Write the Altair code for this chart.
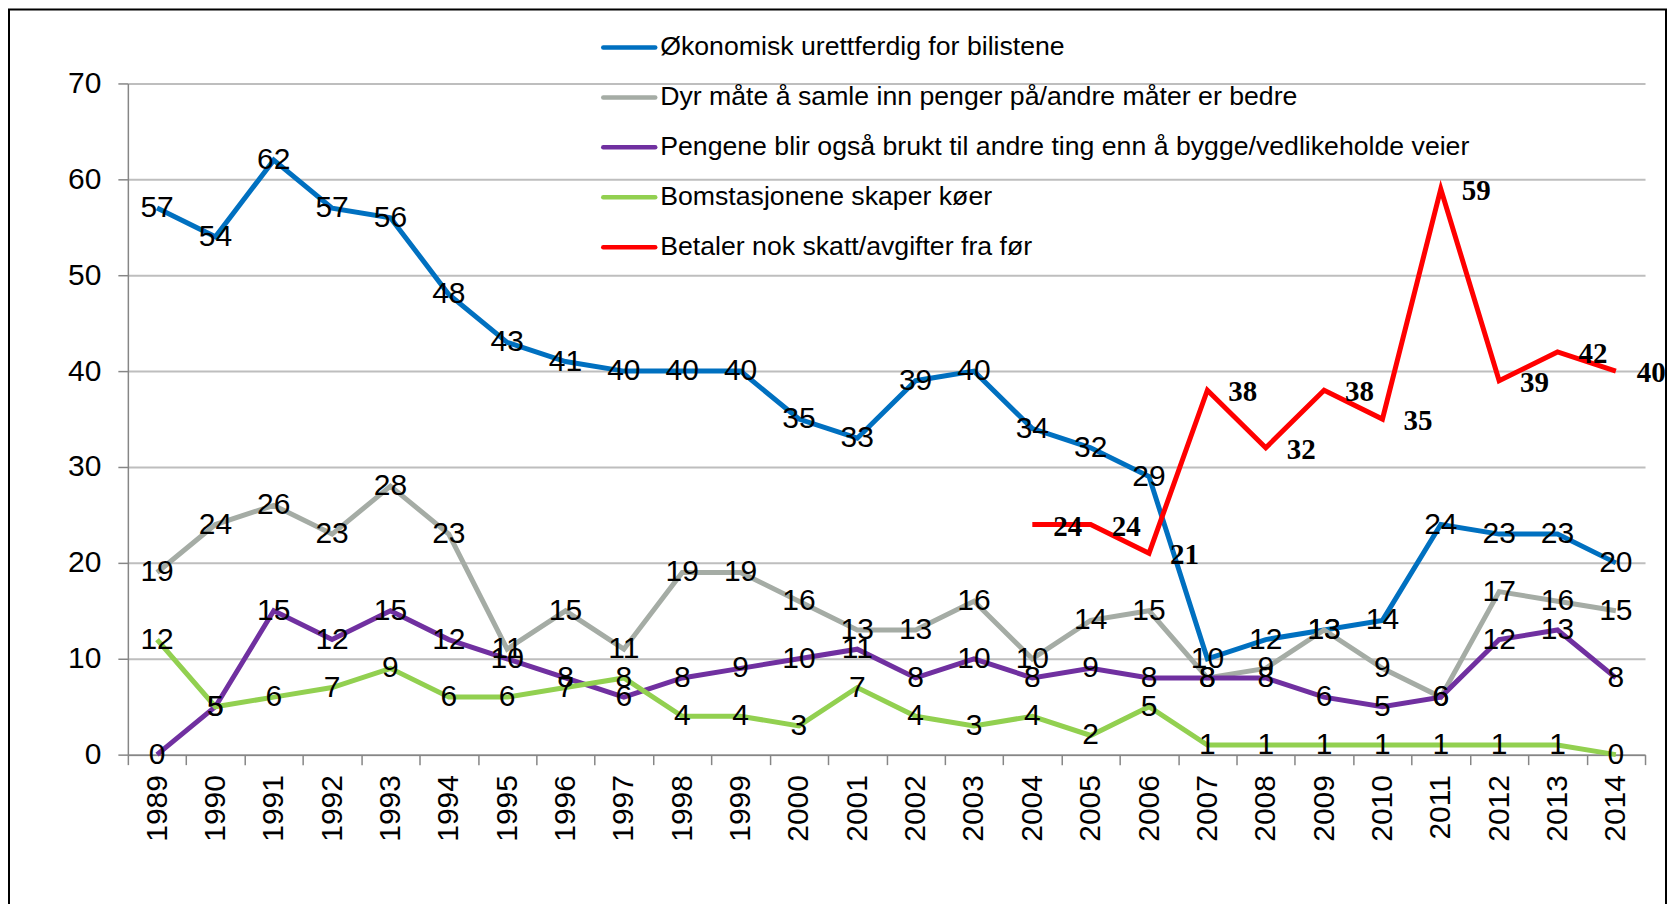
import altair as alt
import pandas as pd

years = ["1989", "1990", "1991", "1992", "1993", "1994", "1995", "1996", "1997",
         "1998", "1999", "2000", "2001", "2002", "2003", "2004", "2005", "2006",
         "2007", "2008", "2009", "2010", "2011", "2012", "2013", "2014"]

okonomisk = [57, 54, 62, 57, 56, 48, 43, 41, 40, 40, 40, 35, 33, 39, 40, 34, 32, 29,
             10, 12, 13, 14, 24, 23, 23, 20]
dyr = [19, 24, 26, 23, 28, 23, 11, 15, 11, 19, 19, 16, 13, 13, 16, 10, 14, 15,
       8, 9, 13, 9, 6, 17, 16, 15]
pengene = [0, 5, 15, 12, 15, 12, 10, 8, 6, 8, 9, 10, 11, 8, 10, 8, 9, 8,
           8, 8, 6, 5, 6, 12, 13, 8]
bom = [12, 5, 6, 7, 9, 6, 6, 7, 8, 4, 4, 3, 7, 4, 3, 4, 2, 5,
       1, 1, 1, 1, 1, 1, 1, 0]
skatt_years = ["2004", "2005", "2006", "2007", "2008", "2009", "2010", "2011",
               "2012", "2013", "2014"]
skatt = [24, 24, 21, 38, 32, 38, 35, 59, 39, 42, 40]

names = [
    "Økonomisk urettferdig for bilistene",
    "Dyr måte å samle inn penger på/andre måter er bedre",
    "Pengene blir også brukt til andre ting enn å bygge/vedlikeholde veier",
    "Bomstasjonene skaper køer",
    "Betaler nok skatt/avgifter fra før",
]
colors = ["#0070C0", "#A5ACA5", "#7030A0", "#92D050", "#FF0000"]
y_ticks = [0, 10, 20, 30, 40, 50, 60, 70]

W, H = 1519, 672

series = [
    (names[0], years, okonomisk),
    (names[1], years, dyr),
    (names[2], years, pengene),
    (names[3], years, bom),
    (names[4], skatt_years, skatt),
]
rows = []
for name, yrs, vals in series:
    for yr, v in zip(yrs, vals):
        rows.append({"year": yr, "series": name, "value": v})
df = pd.DataFrame(rows)

xenc = alt.X(
    "year:O",
    scale=alt.Scale(type="band", domain=years, paddingInner=0, paddingOuter=0),
    axis=alt.Axis(
        title=None, labelAngle=270, labelFontSize=30, labelFont="Liberation Sans",
        labelColor="black", tickBand="extent", tickSize=10, tickColor="#868686",
        tickWidth=1.5, domainColor="#868686", domainWidth=1.5, labelPadding=10,
        grid=False,
    ),
)
yscale = alt.Scale(domain=[0, 70], nice=False, zero=True)
yaxis = alt.Axis(
    title=None, values=y_ticks, labelFontSize=30, labelFont="Liberation Sans",
    labelColor="black", tickSize=10, tickColor="#868686", tickWidth=1.5,
    domainColor="#868686", domainWidth=1.5, labelPadding=17,
    grid=True, gridColor="#BEBEBE", gridWidth=2,
)
yenc = alt.Y("value:Q", scale=yscale, axis=yaxis)

layers = []
for i, (name, _, _) in enumerate(series):
    layers.append(
        alt.Chart(df[df["series"] == name])
        .mark_line(color=colors[i], strokeWidth=5, strokeJoin="miter")
        .encode(x=xenc, y=yenc)
    )

labels_sans = (
    alt.Chart(df[df["series"] != names[4]])
    .mark_text(font="Liberation Sans", fontSize=30, color="black",
               align="center", baseline="middle")
    .encode(x=xenc, y=yenc, text="value:Q")
)
labels_serif = (
    alt.Chart(df[df["series"] == names[4]])
    .mark_text(font="Liberation Serif", fontSize=29, fontWeight="bold",
               color="black", align="left", baseline="middle", dx=21, dy=2)
    .encode(x=xenc, y=yenc, text="value:Q")
)

data_layer = alt.layer(*layers, labels_sans, labels_serif)

leg_df = pd.DataFrame({"series": names, "idx": list(range(len(names))),
                       "col": colors})
leg_y = alt.Y("idx:Q", scale=alt.Scale(domain=[0, 4], range=[-36, 164]),
              axis=None)
leg_rule = (
    alt.Chart(leg_df)
    .mark_rule(strokeWidth=4.5, strokeCap="round")
    .encode(x=alt.value(476), x2=alt.value(528), y=leg_y,
            color=alt.Color("col:N", scale=None))
)
leg_text = (
    alt.Chart(leg_df)
    .mark_text(font="Liberation Sans", fontSize=26.7, color="black",
               align="left", baseline="middle")
    .encode(x=alt.value(533), y=leg_y, text="series:N")
)
legend_layer = alt.layer(leg_rule, leg_text)

frame = (
    alt.Chart(pd.DataFrame({"a": [0]}))
    .mark_rect(fillOpacity=0, stroke="black", strokeWidth=2)
    .encode(x=alt.value(-119), x2=alt.value(1540),
            y=alt.value(-74), y2=alt.value(900))
)

chart = (
    alt.layer(frame, data_layer, legend_layer)
    .resolve_scale(y="independent")
    .properties(
        width=W, height=H,
        autosize=alt.AutoSizeParams(type="none"),
        padding={"left": 120, "top": 75, "right": 23, "bottom": 149},
        background="white",
    )
    .configure_view(stroke=None)
)

chart.save("out.html", embed_options={"renderer": "svg", "actions": False})
